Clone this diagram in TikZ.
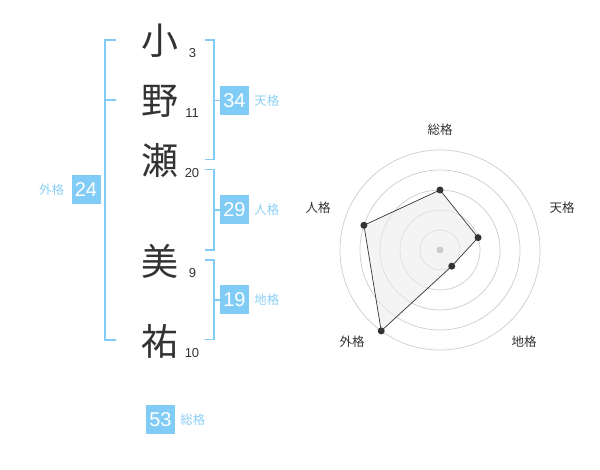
\documentclass[tikz,border=0pt]{standalone}
\usepackage{fontspec}
\setmainfont{Liberation Sans}
\newfontfamily\jpfont{Noto Sans CJK JP}
\usetikzlibrary{positioning}

\definecolor{kakublue}{HTML}{80CCF7}
\definecolor{kakutext}{HTML}{8CD0F5}
\definecolor{inkgray}{HTML}{333333}
\definecolor{ringgray}{HTML}{CCCCCC}

\tikzset{
	kanji/.style={font=\jpfont\fontsize{37}{37}\selectfont, text=inkgray, inner sep=0pt},
	strokes/.style={font=\fontsize{13}{13}\selectfont, text=inkgray, inner sep=0pt},
	kakubox/.style={fill=kakublue, text=white, minimum size=29pt, inner sep=0pt, font=\fontsize{20}{20}\selectfont},
	kakulabel/.style={text=kakutext, font=\jpfont\fontsize{12.5}{12.5}\selectfont, inner sep=0pt},
	bracket/.style={draw=kakublue, line width=1.6pt},
	ring/.style={draw=ringgray, line width=0.7pt},
	axislabel/.style={text=inkgray, font=\jpfont\fontsize{12.5}{12.5}\selectfont, inner sep=0pt},
	dot/.style={circle, fill=inkgray, inner sep=0pt, minimum size=7pt}
}

\begin{document}
\begin{tikzpicture}[x=1pt, y=-1pt]
	\useasboundingbox (0, 0) rectangle (600, 470);

	% Name
	\node[kanji] (k1) at (160, 41) {小};
	\node[kanji] (k2) at (160, 101) {野};
	\node[kanji] (k3) at (160, 161) {瀬};
	\node[kanji] (k4) at (160, 261) {美};
	\node[kanji] (k5) at (160, 341) {祐};

	% Stroke counts
	\node[strokes] (s1) at (192.5, 53) {3};
	\node[strokes] (s2) at (192, 113) {11};
	\node[strokes] (s3) at (192, 173) {20};
	\node[strokes] (s4) at (192.5, 273) {9};
	\node[strokes] (s5) at (192, 353) {10};

	% Outer bracket
	\draw[bracket] (116, 40) -- (105, 40) -- (105, 340) -- (116, 340);
	\draw[bracket] (105, 100) -- (116, 100);
	\node[kakubox] (gai) at (86, 190) {24};
	\node[kakulabel, left=7pt of gai] (gaiL) {外格};

	% Right brackets
	\node[kakubox] (ten) at (234.5, 100.5) {34};
	\node[kakulabel, right=5pt of ten] (tenL) {天格};
	\draw[bracket] (205, 40) -- (214, 40) -- (214, 159.5) -- (205, 159.5);
	\draw[bracket] (214, 100.5) -- (ten.west);

	\node[kakubox] (jin) at (234.5, 210) {29};
	\node[kakulabel, right=5pt of jin] (jinL) {人格};
	\draw[bracket] (205, 169.5) -- (214, 169.5) -- (214, 250) -- (205, 250);
	\draw[bracket] (214, 210) -- (jin.west);

	\node[kakubox] (chi) at (234.5, 300) {19};
	\node[kakulabel, right=5pt of chi] (chiL) {地格};
	\draw[bracket] (205, 260) -- (214, 260) -- (214, 339.5) -- (205, 339.5);
	\draw[bracket] (214, 300) -- (chi.west);

	\node[kakubox] (sou) at (160.5, 419.5) {53};
	\node[kakulabel, right=5pt of sou] (souL) {総格};

	% Radar chart
	\begin{scope}[shift={(440, 250)}, y=1pt]
		\foreach \r in {20, 40, 60, 80, 100}
			\draw[ring] (0, 0) circle (\r);
		\foreach \ang/\val/\lab/\lx/\ly [count=\i] in {90/60/総格/0/120, 18/40/天格/122/42, -54/20/地格/84/-92, -126/100/外格/-88/-92, 162/80/人格/-122/42} {
			\coordinate (p\i) at (\ang:\val);
			\node[axislabel] (ax\i) at (\lx, \ly) {\lab};
		}
		\filldraw[fill=gray!15, fill opacity=0.6, draw=inkgray, line width=0.7pt] (p1) -- (p2) -- (p3) -- (p4) -- (p5) -- cycle;
		\fill[ringgray] (0, 0) circle (3.5);
		\foreach \i in {1, ..., 5}
			\node[dot] at (p\i) {};
	\end{scope}
\end{tikzpicture}
\end{document}
